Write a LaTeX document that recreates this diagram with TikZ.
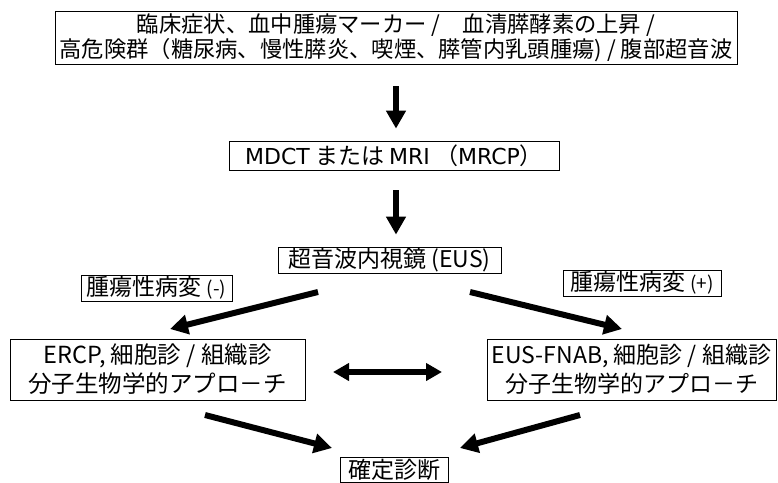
\documentclass[tikz,border=0pt]{standalone}
\usepackage{fontspec}
\setmainfont{Noto Sans CJK JP}
\newfontfamily\latinf{DejaVu Sans}
\usetikzlibrary{arrows.meta}
\tikzset{
  box/.style={draw, line width=0.8pt, inner sep=0pt, align=center, font=\fontsize{23}{26}\selectfont},
  bigarrow/.style={line width=6pt, -{Triangle[length=18pt,width=19pt]}},
  dblarrow/.style={line width=5.5pt, {Triangle[length=16pt,width=17pt]}-{Triangle[length=16pt,width=17pt]}}
}
\begin{document}
\begin{tikzpicture}[x=1pt,y=-1pt]
\useasboundingbox (0,0) rectangle (778,482);
\node[box, minimum width=682pt, minimum height=53pt, font=\fontsize{22.3}{25}\selectfont] (top) at (396,37.5)
  {臨床症状、血中腫瘍マーカー /\quad 血清膵酵素の上昇 /\\高危険群（糖尿病、慢性膵炎、喫煙、膵管内乳頭腫瘍) / 腹部超音波};
\node[box, minimum width=330pt, minimum height=29pt] (mdct) at (394,155.5)
  {{\latinf\fontsize{22}{24}\selectfont MDCT} または {\latinf\fontsize{22}{24}\selectfont MRI} （{\latinf\fontsize{22}{24}\selectfont MRCP}）};
\node[box, minimum width=223pt, minimum height=26pt] (eus) at (389.5,260) {超音波内視鏡 (EUS)};
\node[box, minimum width=151pt, minimum height=26pt] (neg) at (156.5,288) {腫瘍性病変 {\fontsize{19}{20}\selectfont (-)}};
\node[box, minimum width=158pt, minimum height=26pt] (pos) at (642,283) {腫瘍性病変 {\fontsize{19}{20}\selectfont (+)}};
\node[box, minimum width=295pt, minimum height=61pt, font=\fontsize{23.5}{29}\selectfont] (ercp) at (157.5,369.5)
  {ERCP, 細胞診 / 組織診\\分子生物学的アプロ－チ};
\node[box, minimum width=289pt, minimum height=61pt, font=\fontsize{23}{29}\selectfont] (fnab) at (631.5,369.5)
  {EUS-FNAB, 細胞診 / 組織診\\分子生物学的アプロ－チ};
\node[box, minimum width=108pt, minimum height=25pt] (fin) at (394,469.5) {確定診断};

\draw[bigarrow, shorten <=22pt, shorten >=12pt] (top.south -| 396,0) -- (mdct.north -| 396,0);
\draw[bigarrow, shorten <=20pt, shorten >=12pt] (mdct.south -| 396,0) -- (eus.north -| 396,0);

\coordinate (l1) at (318,292);
\coordinate (l2) at (170,329);
\coordinate (r1) at (470,292);
\coordinate (r2) at (622,329);
\coordinate (d1) at (333,372);
\coordinate (d2) at (442,372);
\coordinate (bl1) at (205,415);
\coordinate (bl2) at (332,448);
\coordinate (br1) at (580,415);
\coordinate (br2) at (460,448);
\draw[bigarrow] (l1) -- (l2);
\draw[bigarrow] (r1) -- (r2);
\draw[dblarrow] (d1) -- (d2);
\draw[bigarrow] (bl1) -- (bl2);
\draw[bigarrow] (br1) -- (br2);
\end{tikzpicture}
\end{document}
